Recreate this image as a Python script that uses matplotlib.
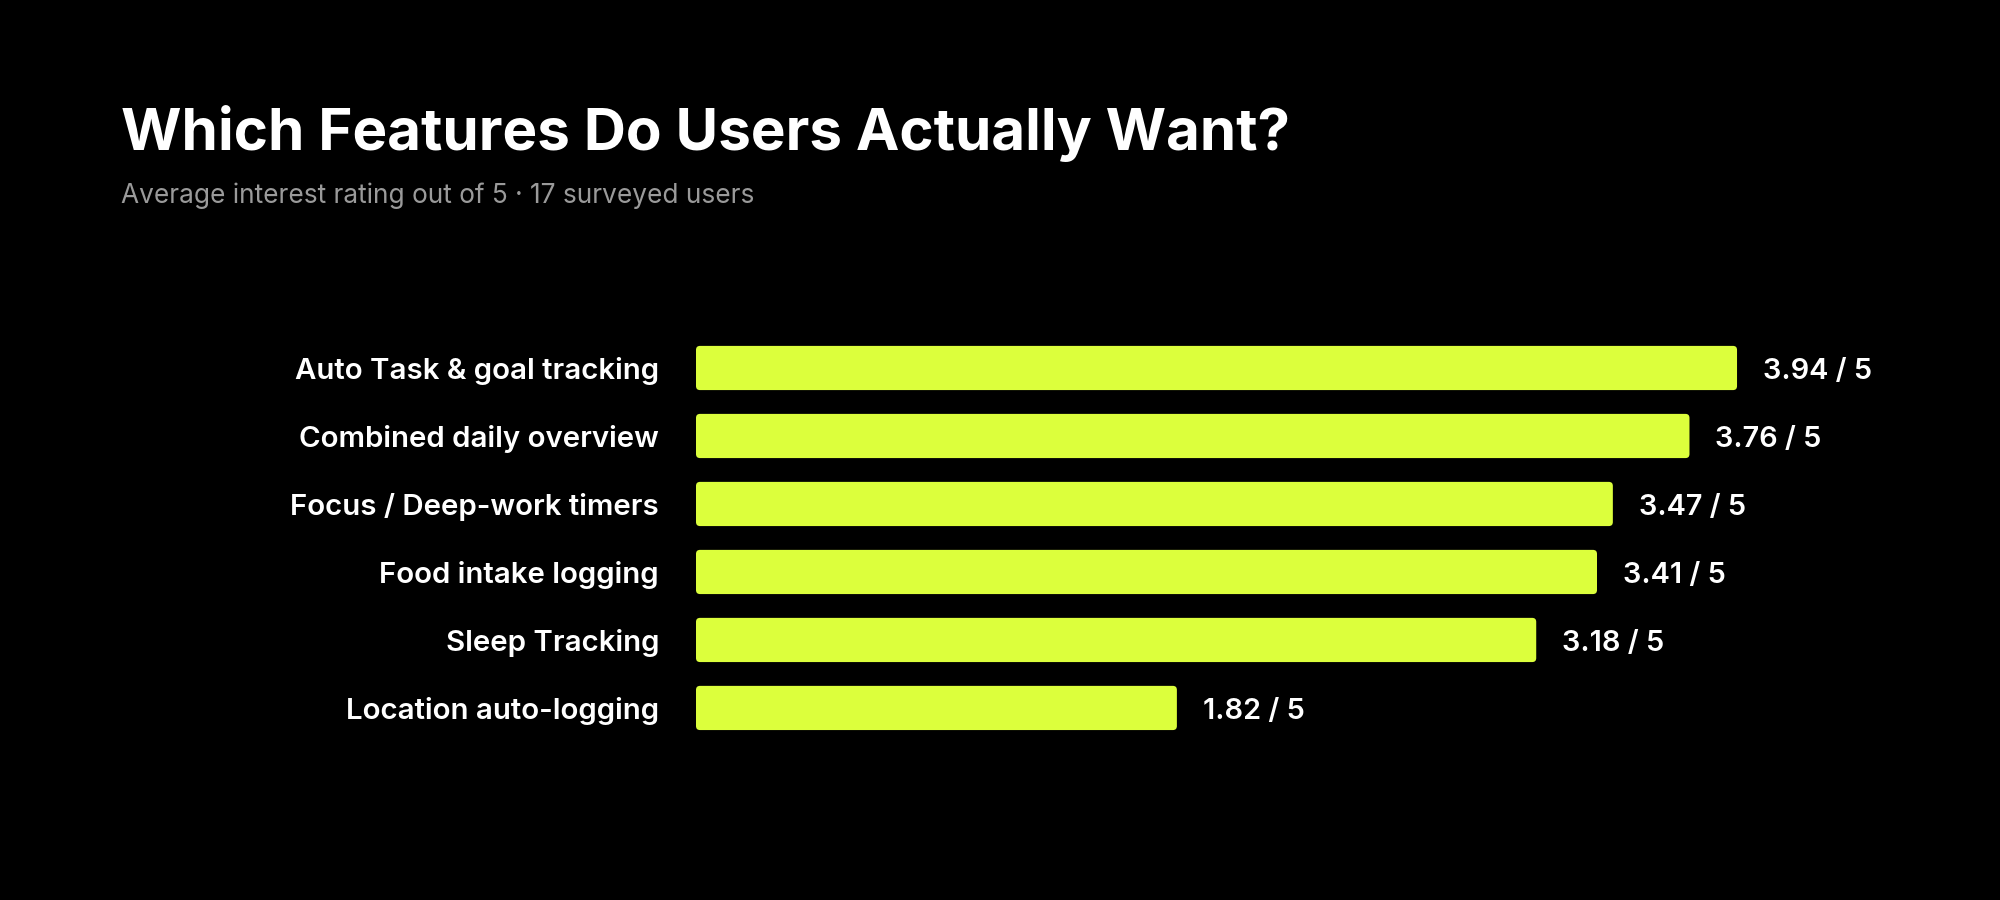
import matplotlib.pyplot as plt
from matplotlib.patches import FancyBboxPatch

features = ['Auto Task & goal tracking', 'Combined daily overview',
            'Focus / Deep-work timers', 'Food intake logging',
            'Sleep Tracking', 'Location auto-logging']
ratings = [3.94, 3.76, 3.47, 3.41, 3.18, 1.82]
max_rating = 5

BG = '#000000'
BAR = '#DCFF3C'

plt.rcParams['font.family'] = ['Inter', 'DejaVu Sans']

fig = plt.figure(figsize=(20, 9), dpi=100, facecolor=BG)
ax = fig.add_axes([0.348, 0.1756, 0.5945, 0.4533], facecolor=BG)

ypos = list(range(len(features)))
bars = ax.barh(ypos, ratings, height=0.65, color=BAR)
ax.set_xlim(0, 4.5)
ax.set_ylim(len(features) - 0.5, -0.5)

# swap the plain bars for slightly rounded ones
bbox = ax.get_position()
px_x = bbox.width * 2000 / 4.5
px_y = bbox.height * 900 / len(features)
for b in bars:
    x, y0, w, h = b.get_x(), b.get_y(), b.get_width(), b.get_height()
    b.remove()
    ax.add_patch(FancyBboxPatch((x, y0), w, h,
                                boxstyle=f'round,pad=0,rounding_size={4 / px_x}',
                                mutation_aspect=px_x / px_y,
                                facecolor=BAR, edgecolor='none'))

for y, name, v in zip(ypos, features, ratings):
    ax.annotate(name, xy=(0, y), xytext=(-26.6, -2.2), textcoords='offset points',
                ha='right', va='center', color='white', fontsize=21.2,
                fontweight='semibold')
    ax.annotate(f'{v:.2f} / {max_rating}', xy=(v, y), xytext=(18.7, -2.2),
                textcoords='offset points', ha='left', va='center',
                color='white', fontsize=20.8, fontweight='semibold')

ax.axis('off')

fig.text(0.0605, 0.8333, 'Which Features Do Users Actually Want?', color='white',
         fontsize=42, fontweight='bold', ha='left', va='baseline')
fig.text(0.0605, 0.7745, 'Average interest rating out of 5 \u00b7 17 surveyed users',
         color='#9a9a9a', fontsize=18.9, ha='left', va='baseline')

fig.savefig('out.png', dpi=100, facecolor=BG)
